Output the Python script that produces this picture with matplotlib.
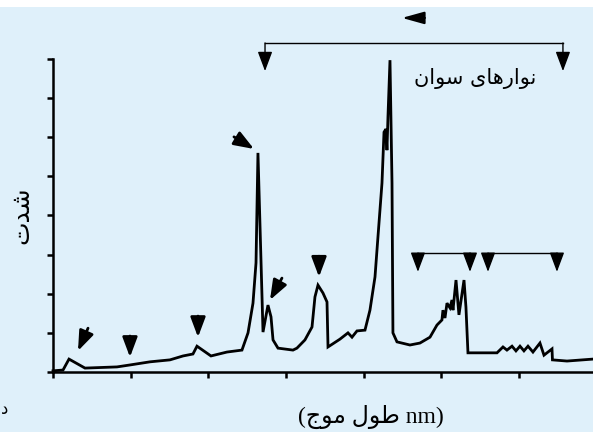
import matplotlib

matplotlib.use("Agg")
import matplotlib.pyplot as plt
from matplotlib.patches import Rectangle

BG = "#dff0fa"

# spectrum trace (x in tick units, y in tick units)
wave = [0.000, 0.129, 0.206, 0.412, 0.824, 0.991, 1.249, 1.506, 1.674, 1.802,
        1.854, 2.034, 2.240, 2.433, 2.511, 2.575, 2.614, 2.639, 2.704, 2.768,
        2.807, 2.833, 2.897, 3.090, 3.141, 3.244, 3.335, 3.373, 3.412, 3.476,
        3.528, 3.541, 3.695, 3.798, 3.850, 3.914, 4.017, 4.081, 4.146, 4.184,
        4.236, 4.262, 4.287, 4.300, 4.313, 4.339, 4.365, 4.377, 4.429, 4.596,
        4.725, 4.854, 4.944, 5.008, 5.021, 5.047, 5.073, 5.111, 5.137, 5.150,
        5.189, 5.227, 5.292, 5.317, 5.343, 5.717, 5.794, 5.845, 5.910, 5.961,
        6.013, 6.064, 6.116, 6.180, 6.270, 6.322, 6.425, 6.431, 6.618, 6.953]
intensity = [0.03, 0.05, 0.33, 0.10, 0.13, 0.18, 0.26, 0.31, 0.41, 0.46,
             0.66, 0.41, 0.51, 0.56, 1.00, 1.76, 2.79, 5.60, 1.02, 1.71,
             1.41, 0.82, 0.61, 0.56, 0.61, 0.82, 1.15, 1.92, 2.22, 2.02,
             1.79, 0.64, 0.84, 1.00, 0.89, 1.05, 1.07, 1.58, 2.43, 3.45,
             4.83, 6.13, 6.21, 5.67, 6.52, 7.97, 4.83, 1.00, 0.77, 0.69,
             0.74, 0.89, 1.20, 1.33, 1.58, 1.38, 1.76, 1.64, 1.84, 1.58,
             2.35, 1.46, 2.35, 1.66, 0.49, 0.49, 0.64, 0.56, 0.66, 0.54,
             0.66, 0.54, 0.66, 0.51, 0.74, 0.43, 0.59, 0.31, 0.28, 0.33]

x_ticks = [0, 1, 2, 3, 4, 5, 6]
y_ticks = [0, 1, 2, 3, 4, 5, 6, 7, 8]

# Persian labels, pre-shaped into presentation forms in visual order
swan_label = "\uFEE5\uFE8D\uFEEE\uFEB3 \uFEEF\uFE8E\uFEEB\uFEAD\uFE8D\uFEEE\uFEE7"
y_label = "\uFE95\uFEAA\uFEB7"
x_label = "(\uFE9D\uFEEE\uFEE3 \uFEDD\uFEEE\uFEC3 nm)"

HEAD = "-|>,head_length=0.8,head_width=0.3"


def arrow(ax, tail, tip, lw=2.0):
    ax.annotate("", xy=tip, xytext=tail, annotation_clip=False,
                arrowprops=dict(arrowstyle=HEAD, mutation_scale=15, color="black",
                                lw=lw, shrinkA=0, shrinkB=0))


def bracket(ax, x0, x1, y_top, y_tip):
    ax.plot([x0, x1], [y_top, y_top], color="black", lw=1.0, clip_on=False,
            solid_capstyle="projecting")
    for x in (x0, x1):
        arrow(ax, (x, y_top), (x, y_tip), lw=1.0)


fig = plt.figure(figsize=(5.93, 4.32), dpi=100, facecolor=BG)
fig.patches.append(Rectangle((0, 1 - 7 / 432), 1, 7 / 432, transform=fig.transFigure,
                             facecolor="white", edgecolor="none", zorder=0))
ax = fig.add_axes([53 / 593, 60 / 432, 540 / 593, 313 / 432])
ax.set_facecolor("none")

ax.plot(wave, intensity, color="black", lw=2.0, solid_joinstyle="miter", clip_on=False)

ax.set_xlim(0, 6.953)
ax.set_ylim(0, 8)
ax.set_xticks(x_ticks)
ax.set_yticks(y_ticks)
ax.tick_params(labelbottom=False, labelleft=False, length=4, width=1.8, direction="out")
for side in ("top", "right"):
    ax.spines[side].set_visible(False)
for side in ("left", "bottom"):
    ax.spines[side].set_linewidth(1.8)

# single peak markers
arrow(ax, (0.451, 1.12), (0.322, 0.54))
arrow(ax, (0.991, 0.92), (0.991, 0.38))
arrow(ax, (1.867, 1.43), (1.867, 0.89))
arrow(ax, (2.330, 6.01), (2.588, 5.70))
arrow(ax, (2.948, 2.40), (2.794, 1.84))
arrow(ax, (3.425, 2.96), (3.425, 2.43))

# band brackets
bracket(ax, 2.730, 6.566, 8.41, 7.69)
bracket(ax, 4.699, 5.369, 3.04, 2.56)
bracket(ax, 5.601, 6.489, 3.04, 2.56)
ax.annotate("", xy=(4.493, 9.05), xytext=(4.789, 9.05), annotation_clip=False,
            arrowprops=dict(arrowstyle="-|>,head_length=0.9,head_width=0.25",
                            mutation_scale=15, color="black", lw=1.5,
                            shrinkA=0, shrinkB=0))

ax.text(5.433, 7.51, swan_label, ha="center", va="center", fontsize=15,
        family=["DejaVu Sans"])
ax.text(-0.059, 0.5, y_label, rotation=90, ha="center", va="center", fontsize=18,
        family=["DejaVu Sans"], transform=ax.transAxes)
ax.text(0.589, -0.144, x_label, ha="center", va="center", fontsize=17,
        family=["Liberation Serif", "DejaVu Sans"], transform=ax.transAxes)
fig.text(1 / 593, 1 - 409 / 432, "\uFEA9", ha="left", va="center", fontsize=12,
         family=["DejaVu Sans"])

fig.savefig("out.png", dpi=100, facecolor=BG)
